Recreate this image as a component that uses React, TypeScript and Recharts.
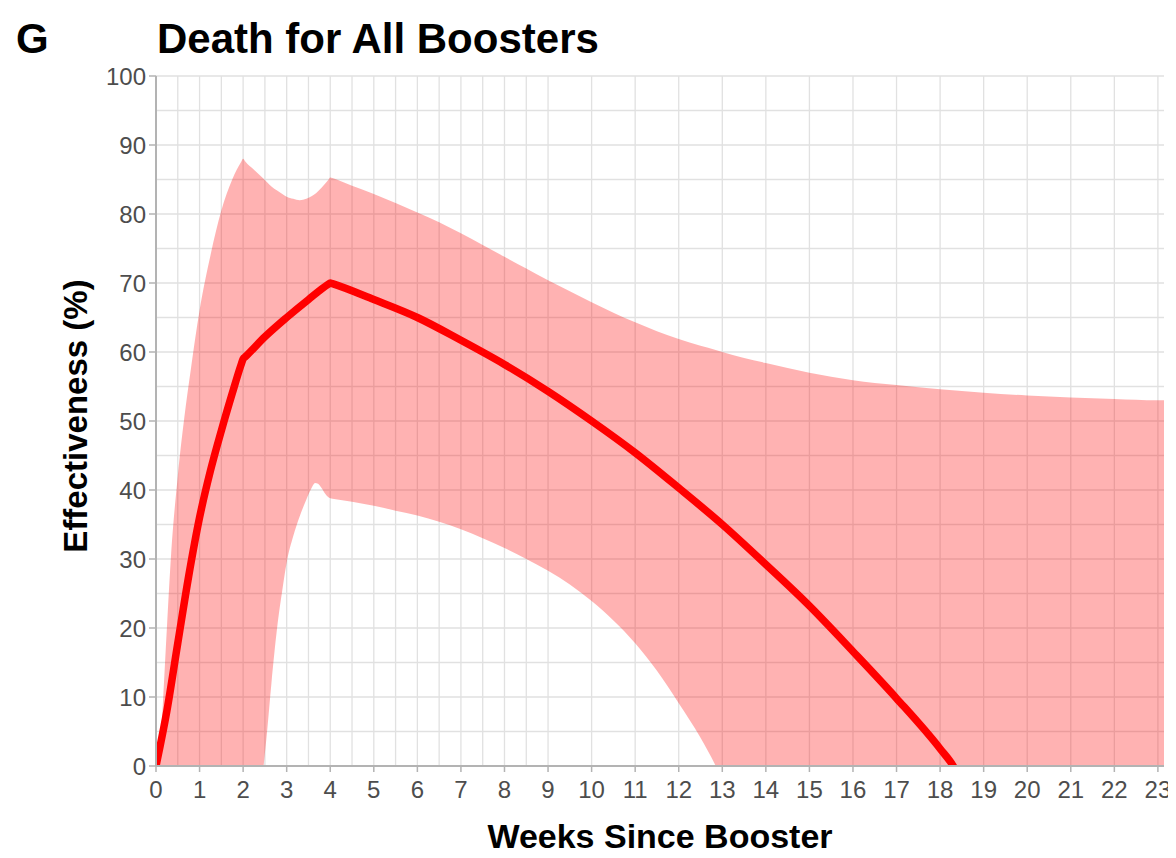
import {
  ComposedChart,
  Area,
  Line,
  XAxis,
  YAxis,
  CartesianGrid,
} from "recharts";

// confidence band (weeks since booster -> %).
// Values below 0 lie outside the plotted range and are clipped, as in the original.
const BAND_WEEKS = [
  0, 0.08, 0.17, 0.25, 0.35, 0.5, 0.65, 0.8, 1, 1.25,
  1.5, 1.75, 1.95, 2, 2.05, 2.25, 2.47, 2.55, 2.65, 2.78,
  2.9, 3, 3.15, 3.3, 3.45, 3.58, 3.65, 3.72, 3.8, 3.88,
  3.95, 4, 4.05, 4.5, 5, 5.5, 6, 6.5, 7, 7.5,
  8, 8.5, 9, 9.5, 10, 10.5, 11, 11.5, 12, 12.5,
  12.85, 13, 14, 15, 16, 17, 18, 19, 20, 21,
  22, 23, 23.14,
];
const BAND_UPPER = [
  -10, 0, 10.5, 20, 31, 42, 50.5, 57.5, 66, 74,
  80.5, 85, 87.5, 88, 87.6, 86.4, 85.1, 84.6, 84, 83.4,
  82.9, 82.5, 82.2, 82, 82.2, 82.6, 82.9, 83.3, 83.8, 84.4,
  84.9, 85.3, 85.2, 84.1, 82.9, 81.6, 80.2, 78.8, 77.2, 75.5,
  73.8, 72.1, 70.4, 68.8, 67.2, 65.7, 64.3, 63, 61.9, 60.9,
  60.3, 60, 58.4, 57, 55.9, 55.2, 54.6, 54.1, 53.7, 53.4,
  53.2, 53, 53,
];
const BAND_LOWER = [
  -20, -20, -20, -20, -20, -20, -20, -20, -20, -20,
  -20, -20, -20, -18, -16, -12, 0, 5, 12, 20,
  25.5, 29.5, 33.3, 36.2, 38.6, 40.4, 41, 40.9, 40.3, 39.5,
  39, 38.8, 38.75, 38.3, 37.7, 37, 36.3, 35.4, 34.3, 33,
  31.6, 30, 28.3, 26.3, 23.9, 21.1, 17.8, 13.8, 9.1, 4.1,
  0, -2, -12, -20, -20, -20, -20, -20, -20, -20,
  -20, -20, -20,
];

// point estimate
const LINE_WEEKS = [
  0, 0.25, 0.5, 0.75, 1, 1.25, 1.5, 1.75, 1.95, 2, 2.05, 2.5, 3, 3.5, 3.95, 4, 4.05,
  5, 6, 7, 8, 9, 10, 11, 12, 13, 14, 15, 16, 17, 18, 18.3, 18.5,
];
const LINE_VE = [
  0, 8, 17.8, 27.5, 36, 42.8, 48.6, 54, 58.1, 59, 59.3, 62.2, 65, 67.6, 69.8, 70, 69.9,
  67.6, 65, 61.7, 58.2, 54.3, 50, 45.4, 40.3, 35, 29.2, 23.2, 16.6, 9.8, 2.5, 0, -2.5,
];

const X_TICKS = [0, 1, 2, 3, 4, 5, 6, 7, 8, 9, 10, 11, 12, 13, 14, 15, 16, 17, 18, 19, 20, 21, 22, 23];
const X_GRID = X_TICKS.flatMap((t) => (t < 23 ? [t, t + 0.5] : [t]));
const Y_TICKS = [0, 10, 20, 30, 40, 50, 60, 70, 80, 90, 100];
const Y_GRID = Y_TICKS.flatMap((t) => (t < 100 ? [t, t + 5] : [t]));

const band = BAND_WEEKS.map((week, i) => ({ week, range: [BAND_LOWER[i], BAND_UPPER[i]] }));
const line = LINE_WEEKS.map((week, i) => ({ week, ve: LINE_VE[i] }));

const AXIS_GREY = "#b3b3b3";
const FONT = "'Liberation Sans', Arial, Helvetica, sans-serif";

export default function App() {
  return (
    <div style={{ position: "relative", width: 1166, height: 842, fontFamily: FONT }}>
      <ComposedChart width={1166} height={842} margin={{ top: 68, right: 10, bottom: 44, left: 88 }}>
        <CartesianGrid
          verticalValues={X_GRID}
          horizontalValues={Y_GRID}
          stroke="#e1e1e1"
          strokeWidth={1.3}
        />

        <XAxis
          type="number"
          dataKey="week"
          domain={[0, 23.14]}
          ticks={X_TICKS}
          allowDataOverflow
          height={40}
          tick={{ fill: "#4d4d4d", fontSize: 24 }}
          tickSize={6}
          tickMargin={9}
          axisLine={{ stroke: AXIS_GREY, strokeWidth: 2 }}
          tickLine={{ stroke: AXIS_GREY, strokeWidth: 1.5 }}
        />
        <YAxis
          domain={[0, 100]}
          ticks={Y_TICKS}
          allowDataOverflow
          width={60}
          tick={{ fill: "#4d4d4d", fontSize: 24 }}
          tickSize={7}
          tickMargin={3}
          axisLine={{ stroke: AXIS_GREY, strokeWidth: 2 }}
          tickLine={{ stroke: AXIS_GREY, strokeWidth: 1.5 }}
        />
        {/* right-hand frame line */}
        <YAxis
          yAxisId="frame"
          orientation="right"
          domain={[0, 100]}
          width={0}
          tick={false}
          tickLine={false}
          axisLine={{ stroke: AXIS_GREY, strokeWidth: 2 }}
        />

        <Area
          data={band}
          dataKey="range"
          type="monotone"
          stroke="none"
          fill="#ff0000"
          fillOpacity={0.3}
          isAnimationActive={false}
        />
        <Line
          data={line}
          dataKey="ve"
          type="monotone"
          stroke="#ff0000"
          strokeWidth={7.5}
          dot={false}
          activeDot={false}
          isAnimationActive={false}
        />
      </ComposedChart>

      <svg
        width={1176}
        height={858}
        style={{ position: "absolute", left: -8, top: -8, pointerEvents: "none" }}
      >
        <text x={16} y={53} fontSize={42} fontWeight="bold" fill="#000">G</text>
        <text x={157} y={53} fontSize={42} fontWeight="bold" fill="#000">Death for All Boosters</text>
        <text x={660} y={848} fontSize={34} fontWeight="bold" fill="#000" textAnchor="middle">
          Weeks Since Booster
        </text>
        <text
          x={87}
          y={416}
          fontSize={33}
          fontWeight="bold"
          fill="#000"
          textAnchor="middle"
          transform="rotate(-90 87 416)"
        >
          Effectiveness (%)
        </text>
      </svg>
    </div>
  );
}
